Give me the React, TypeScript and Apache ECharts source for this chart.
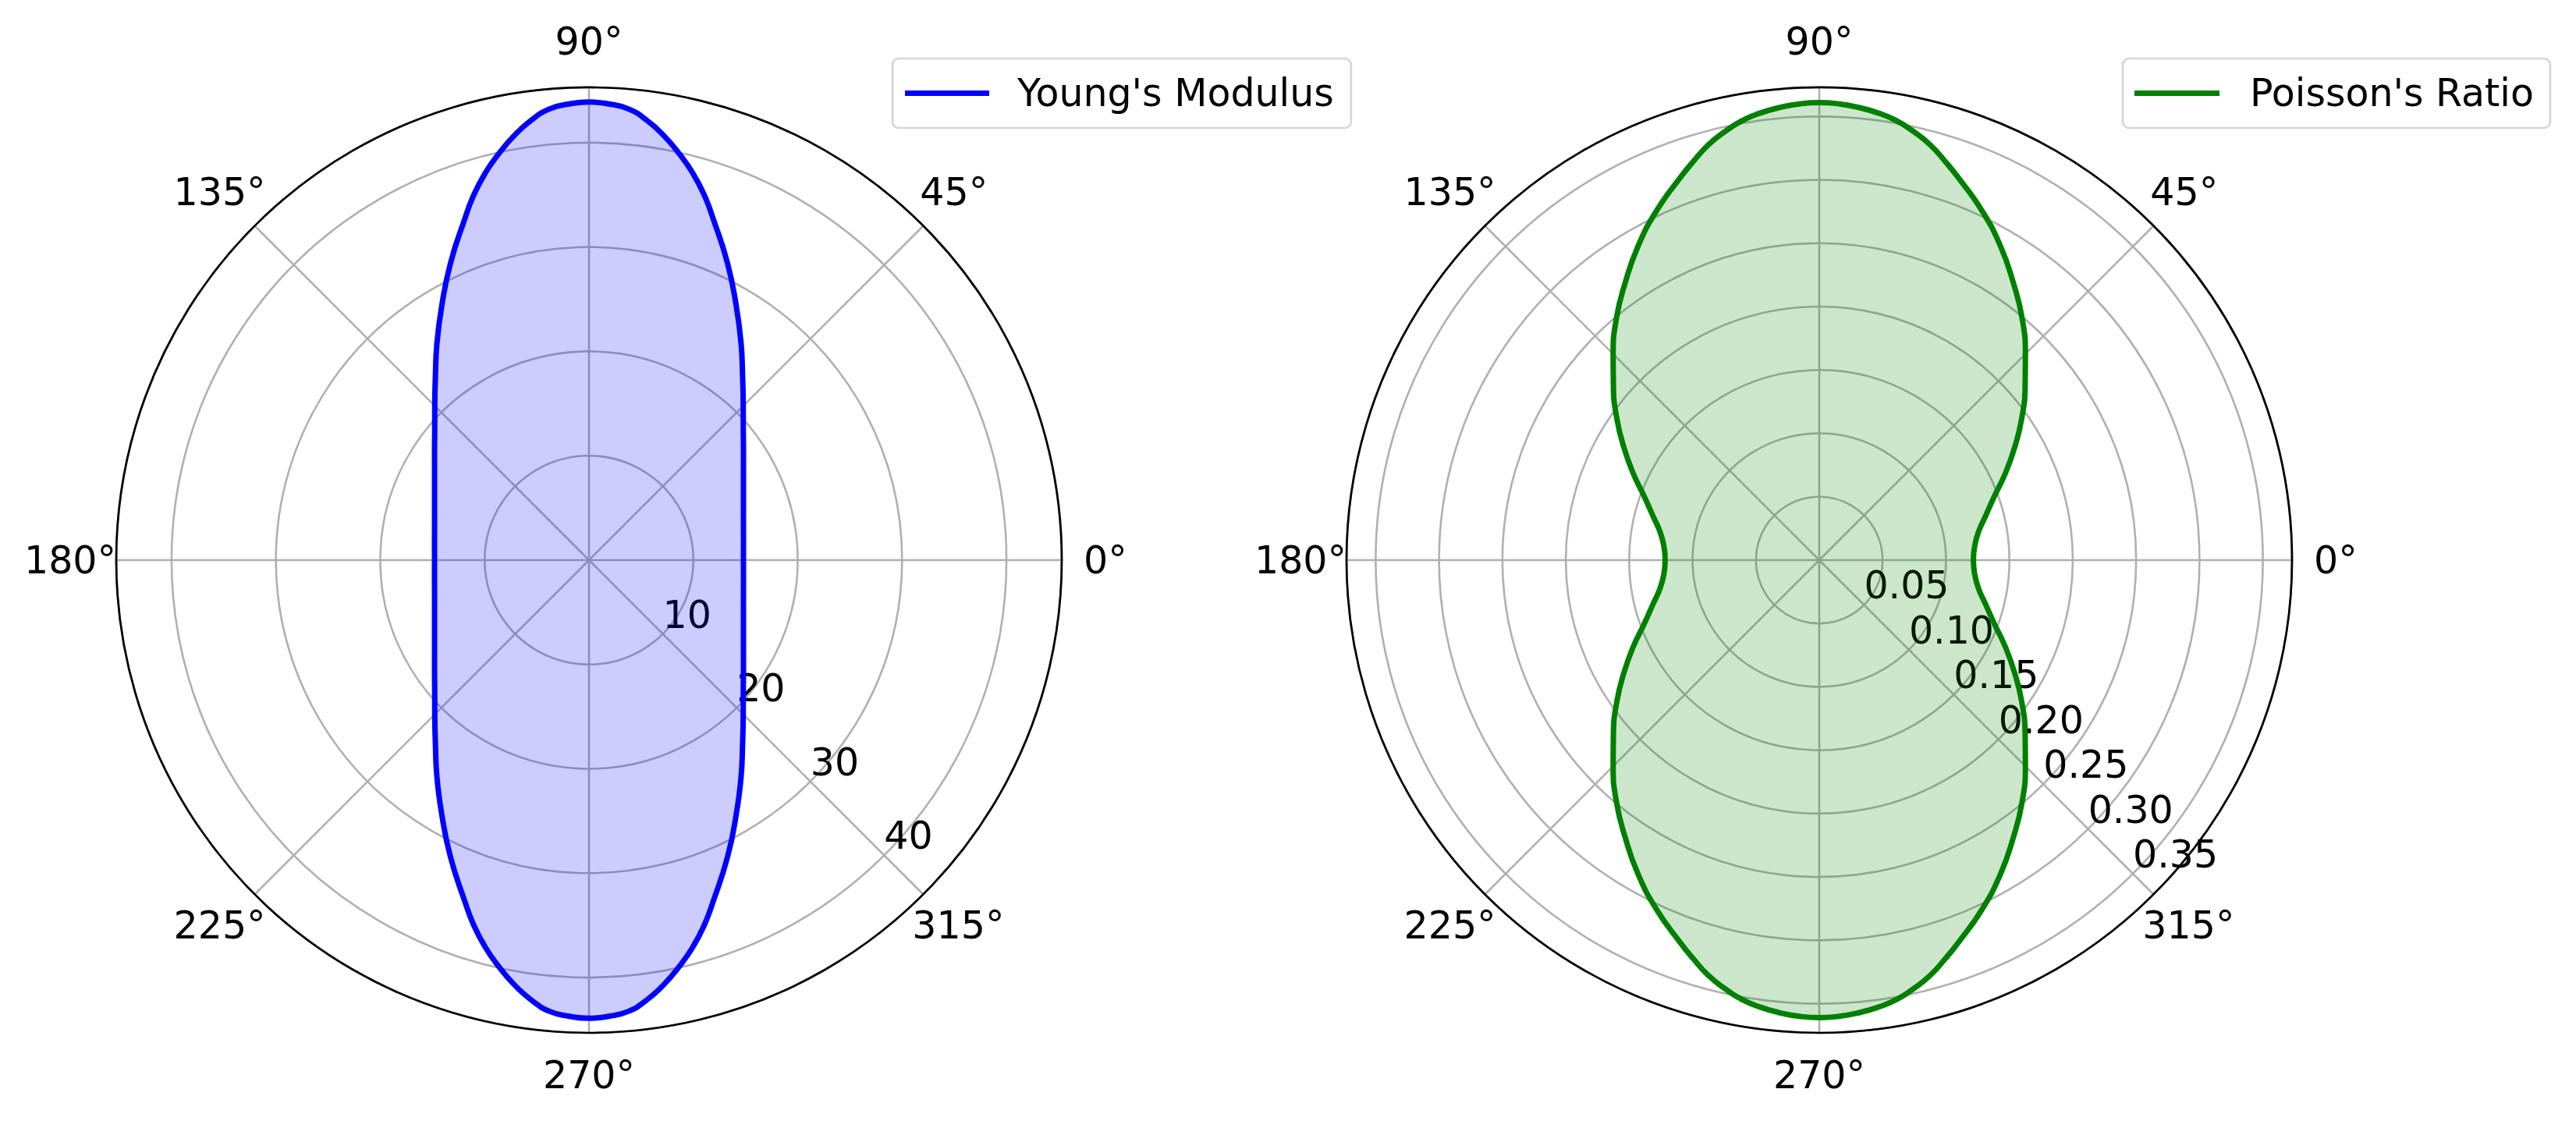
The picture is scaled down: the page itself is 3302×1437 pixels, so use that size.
import React, { useEffect, useRef } from 'react';
import * as echarts from 'echarts';

// sampled directions (degrees, counter-clockwise from +x); denser near the lobes' tips
const angles = [
  0, 5, 10, 15, 20, 25, 30, 35, 40, 45, 50, 55, 60, 65,
  70, 72.5, 75, 77.5, 80, 82.5, 85, 87.5, 90, 92.5, 95, 97.5, 100, 102.5, 105, 107.5, 110,
  115, 120, 125, 130, 135, 140, 145, 150, 155, 160, 165, 170, 175, 180,
  185, 190, 195, 200, 205, 210, 215, 220, 225, 230, 235, 240, 245,
  250, 252.5, 255, 257.5, 260, 262.5, 265, 267.5, 270, 272.5, 275, 277.5, 280, 282.5, 285, 287.5, 290,
  295, 300, 305, 310, 315, 320, 325, 330, 335, 340, 345, 350, 355, 360,
];

// Young's modulus
const youngsModulus = [
  14.8, 14.86, 15.03, 15.32, 15.75, 16.33, 17.09, 18.07, 19.3, 20.9, 22.9, 25.4, 28.2, 31.4,
  34.8, 36.7, 38.4, 39.9, 41.3, 42.5, 43.4, 43.75, 43.9, 43.75, 43.4, 42.5, 41.3, 39.9, 38.4, 36.7, 34.8,
  31.4, 28.2, 25.4, 22.9, 20.9, 19.3, 18.07, 17.09, 16.33, 15.75, 15.32, 15.03, 14.86, 14.8,
  14.86, 15.03, 15.32, 15.75, 16.33, 17.09, 18.07, 19.3, 20.9, 22.9, 25.4, 28.2, 31.4,
  34.8, 36.7, 38.4, 39.9, 41.3, 42.5, 43.4, 43.75, 43.9, 43.75, 43.4, 42.5, 41.3, 39.9, 38.4, 36.7, 34.8,
  31.4, 28.2, 25.4, 22.9, 20.9, 19.3, 18.07, 17.09, 16.33, 15.75, 15.32, 15.03, 14.86, 14.8,
];

// Poisson's ratio
const poissonsRatio = [
  0.1216, 0.123, 0.1275, 0.136, 0.147, 0.162, 0.178, 0.195, 0.212, 0.23, 0.249, 0.267, 0.286, 0.304,
  0.321, 0.33, 0.339, 0.346, 0.352, 0.3558, 0.3585, 0.3603, 0.361, 0.3603, 0.3585, 0.3558, 0.352, 0.346, 0.339, 0.33, 0.321,
  0.304, 0.286, 0.267, 0.249, 0.23, 0.212, 0.195, 0.178, 0.162, 0.147, 0.136, 0.1275, 0.123, 0.1216,
  0.123, 0.1275, 0.136, 0.147, 0.162, 0.178, 0.195, 0.212, 0.23, 0.249, 0.267, 0.286, 0.304,
  0.321, 0.33, 0.339, 0.346, 0.352, 0.3558, 0.3585, 0.3603, 0.361, 0.3603, 0.3585, 0.3558, 0.352, 0.346, 0.339, 0.33, 0.321,
  0.304, 0.286, 0.267, 0.249, 0.23, 0.212, 0.195, 0.178, 0.162, 0.147, 0.136, 0.1275, 0.123, 0.1216,
];

const youngsTicks = [10, 20, 30, 40];
const poissonTicks = [0.05, 0.1, 0.15, 0.2, 0.25, 0.3, 0.35];

const FONT = 'DejaVu Sans';
const FS = 49;
const GRID = '#b0b0b0';

// labels sit slightly inside the rim (negative margin) and are pushed back out per direction
const richBase = { fontSize: FS, fontFamily: FONT, color: '#000' };
const angleRich = {
  a0: { ...richBase, padding: [0, 0, 0, 48] },
  a45: { ...richBase, padding: [0, 0, 33, 10] },
  a90: { ...richBase, padding: [0, 0, 54, 0] },
  a135: { ...richBase, padding: [0, 0, 33, 0] },
  a180: { ...richBase, padding: [0, 20, 0, 0] },
  a225: { ...richBase, padding: [30, 0, 0, 0] },
  a270: { ...richBase, padding: [50, 0, 0, 0] },
  a315: { ...richBase, padding: [30, 0, 0, 0] },
};

const angleLabel = (v: number) => {
  const d = ((v % 360) + 360) % 360;
  return `{a${d}|${d}°}`;
};

const makeAngleAxis = (polarIndex: number) => ({
  polarIndex,
  type: 'value',
  min: -45,
  max: 315,
  interval: 45,
  startAngle: 315,
  clockwise: false,
  z: 1,
  axisLine: { lineStyle: { color: '#000', width: 2.7 } },
  axisTick: { show: false },
  splitLine: { show: true, lineStyle: { color: GRID, width: 2.6 } },
  axisLabel: {
    margin: -20,
    fontSize: FS,
    fontFamily: FONT,
    color: '#000',
    formatter: angleLabel,
    rich: angleRich,
  },
});

const makeRadiusAxis = (polarIndex: number, max: number, interval: number, ticks: number[], digits: number) => ({
  polarIndex,
  type: 'value',
  min: 0,
  max,
  interval,
  z: 0,
  axisLine: { show: false },
  axisTick: { show: false },
  splitLine: { show: true, lineStyle: { color: GRID, width: 2.6 } },
  axisLabel: {
    margin: 0,
    rotate: 0,
    align: 'left',
    verticalAlign: 'bottom',
    fontSize: FS,
    fontFamily: FONT,
    color: '#000',
    formatter: (v: number) => {
      const hit = ticks.find((t) => Math.abs(t - v) < 1e-9);
      return hit === undefined ? '' : hit.toFixed(digits);
    },
  },
});

const makeLegend = (name: string, left: number, itemWidth: number, textPad: number, pad: number[]) => ({
  data: [name],
  left,
  top: 75,
  orient: 'horizontal',
  icon: 'rect',
  itemWidth,
  itemHeight: 7,
  padding: pad,
  borderColor: '#d6d6d6',
  borderWidth: 2.7,
  borderRadius: 8,
  backgroundColor: '#fff',
  textStyle: {
    fontSize: FS,
    fontFamily: FONT,
    color: '#000',
    lineHeight: 57,
    padding: [0, 0, 0, textPad],
  },
});

const App: React.FC = () => {
  const chartRef = useRef<HTMLDivElement>(null);

  useEffect(() => {
    if (!chartRef.current) return;
    const chart = echarts.init(chartRef.current, undefined, { renderer: 'svg' });

    const option = {
      animation: false,
      backgroundColor: '#fff',
      textStyle: { fontFamily: FONT },
      polar: [
        { center: [755, 718], radius: 606 },
        { center: [2332, 718], radius: 606 },
      ],
      angleAxis: [makeAngleAxis(0), makeAngleAxis(1)],
      radiusAxis: [
        makeRadiusAxis(0, 45.3, 10, youngsTicks, 0),
        makeRadiusAxis(1, 0.373, 0.05, poissonTicks, 2),
      ],
      legend: [
        makeLegend("Young's Modulus", 1144, 108, 31, [16, 22, 16, 16]),
        makeLegend("Poisson's Ratio", 2721, 109, 34, [16, 21, 16, 15]),
      ],
      series: [
        {
          name: "Young's Modulus",
          type: 'line',
          coordinateSystem: 'polar',
          polarIndex: 0,
          symbol: 'none',
          smooth: 0.5,
          z: 3,
          data: youngsModulus.map((r, i) => [r, angles[i]]),
          itemStyle: { color: '#0000ff' },
          lineStyle: { color: '#0000ff', width: 7 },
          areaStyle: { color: '#0000ff', opacity: 0.2 },
        },
        {
          name: "Poisson's Ratio",
          type: 'line',
          coordinateSystem: 'polar',
          polarIndex: 1,
          symbol: 'none',
          smooth: 0.5,
          z: 3,
          data: poissonsRatio.map((r, i) => [r, angles[i]]),
          itemStyle: { color: '#008000' },
          lineStyle: { color: '#008000', width: 7 },
          areaStyle: { color: '#008000', opacity: 0.2 },
        },
      ],
    };

    chart.setOption(option);

    const handleResize = () => chart.resize();
    window.addEventListener('resize', handleResize);
    return () => {
      window.removeEventListener('resize', handleResize);
      chart.dispose();
    };
  }, []);

  return (
    <div
      ref={chartRef}
      style={{ position: 'absolute', left: 0, top: 0, width: 3302, height: 1437 }}
    />
  );
};

export default App;
